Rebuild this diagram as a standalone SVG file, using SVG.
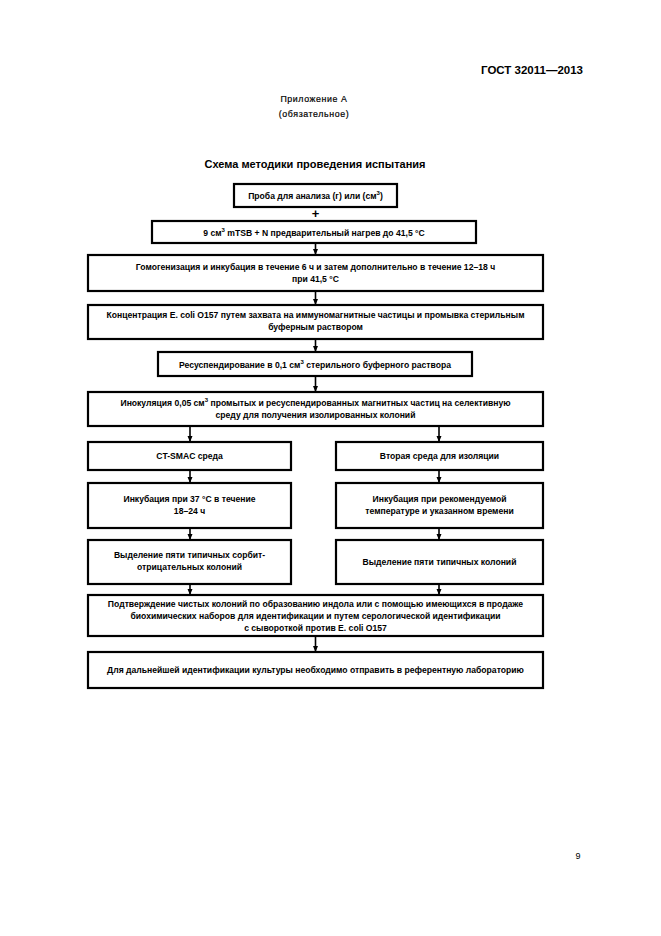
<svg xmlns="http://www.w3.org/2000/svg" width="661" height="936" viewBox="0 0 661 936">
<defs>
<style>
.box{fill:#fff;stroke:#000;stroke-width:2.2}
.t{font-family:"Liberation Sans",Arial,sans-serif;font-size:8.6px;font-weight:bold;text-anchor:middle;fill:#000}
.h{font-family:"Liberation Sans",Arial,sans-serif;fill:#000}
.c{stroke:#000;stroke-width:1.6;fill:none}
</style>
<marker id="ah" markerWidth="6" markerHeight="6" refX="5" refY="3" orient="auto" markerUnits="userSpaceOnUse">
<path d="M0,0.5 L6,3 L0,5.5 Z" fill="#000"/>
</marker>
</defs>
<rect width="661" height="936" fill="#fff"/>
<text class="h" x="583" y="74" font-size="11.5" font-weight="bold" text-anchor="end">ГОСТ 32011—2013</text>
<text class="h" x="314" y="102" font-size="8.8" text-anchor="middle" letter-spacing="0.6" stroke="#000" stroke-width="0.2">Приложение А</text>
<text class="h" x="314" y="117" font-size="8.8" text-anchor="middle" letter-spacing="0.6" stroke="#000" stroke-width="0.2">(обязательное)</text>
<text class="h" x="315" y="168" font-size="11" font-weight="bold" text-anchor="middle">Схема методики проведения испытания</text>
<text class="h" x="578" y="859" font-size="9" text-anchor="middle">9</text>

<g id="connectors">
<text class="h" x="315.5" y="218" font-size="13" font-weight="bold" text-anchor="middle">+</text>
<line class="c" x1="315.5" y1="243" x2="315.5" y2="254" marker-end="url(#ah)"/>
<line class="c" x1="315.5" y1="291" x2="315.5" y2="304" marker-end="url(#ah)"/>
<line class="c" x1="315.5" y1="339" x2="315.5" y2="351" marker-end="url(#ah)"/>
<line class="c" x1="315.5" y1="376" x2="315.5" y2="391" marker-end="url(#ah)"/>
<line class="c" x1="190" y1="426" x2="190" y2="441" marker-end="url(#ah)"/>
<line class="c" x1="439" y1="426" x2="439" y2="441" marker-end="url(#ah)"/>
<line class="c" x1="190" y1="470" x2="190" y2="482" marker-end="url(#ah)"/>
<line class="c" x1="439" y1="470" x2="439" y2="482" marker-end="url(#ah)"/>
<line class="c" x1="190" y1="528" x2="190" y2="539" marker-end="url(#ah)"/>
<line class="c" x1="439" y1="528" x2="439" y2="539" marker-end="url(#ah)"/>
<line class="c" x1="190" y1="584" x2="190" y2="594" marker-end="url(#ah)"/>
<line class="c" x1="439" y1="584" x2="439" y2="594" marker-end="url(#ah)"/>
<line class="c" x1="315.5" y1="636" x2="315.5" y2="651" marker-end="url(#ah)"/>
</g>

<g id="n1"><rect class="box" x="234" y="184" width="163" height="23"/>
<text class="t" x="315.5" y="199">Проба для анализа (г) или (см<tspan dy="-4" font-size="6">3</tspan><tspan dy="4">)</tspan></text></g>

<g id="n2"><rect class="box" x="152" y="221" width="324" height="22"/>
<text class="t" x="314" y="236">9 см<tspan dy="-4" font-size="6">3</tspan><tspan dy="4"> mTSB + N предварительный нагрев до 41,5 °С</tspan></text></g>

<g id="n3"><rect class="box" x="88" y="255" width="455" height="36"/>
<text class="t" x="315.5" y="270">Гомогенизация и инкубация в течение 6 ч и затем дополнительно в течение 12–18 ч</text>
<text class="t" x="315.5" y="282">при 41,5 °С</text></g>

<g id="n4"><rect class="box" x="88" y="305" width="455" height="34"/>
<text class="t" x="315.5" y="318">Концентрация E. coli O157 путем захвата на иммуномагнитные частицы и промывка стерильным</text>
<text class="t" x="315.5" y="330">буферным раствором</text></g>

<g id="n5"><rect class="box" x="158" y="352" width="314" height="24"/>
<text class="t" x="315" y="368">Ресуспендирование в 0,1 см<tspan dy="-4" font-size="6">3</tspan><tspan dy="4"> стерильного буферного раствора</tspan></text></g>

<g id="n6"><rect class="box" x="88" y="392" width="455" height="34"/>
<text class="t" x="315.5" y="406">Инокуляция 0,05 см<tspan dy="-4" font-size="6">3</tspan><tspan dy="4"> промытых и ресуспендированных магнитных частиц на селективную</tspan></text>
<text class="t" x="315.5" y="418">среду для получения изолированных колоний</text></g>

<g id="n7a"><rect class="box" x="88" y="442" width="203" height="28"/>
<text class="t" x="189.5" y="459">CT-SMAC среда</text></g>

<g id="n7b"><rect class="box" x="336" y="442" width="207" height="28"/>
<text class="t" x="439.5" y="459">Вторая среда для изоляции</text></g>

<g id="n8a"><rect class="box" x="88" y="483" width="203" height="45"/>
<text class="t" x="189.5" y="502">Инкубация при 37 °С в течение</text>
<text class="t" x="189.5" y="514">18–24 ч</text></g>

<g id="n8b"><rect class="box" x="336" y="483" width="207" height="45"/>
<text class="t" x="439.5" y="502">Инкубация при рекомендуемой</text>
<text class="t" x="439.5" y="514">температуре и указанном времени</text></g>

<g id="n9a"><rect class="box" x="88" y="540" width="203" height="44"/>
<text class="t" x="189.5" y="558">Выделение пяти типичных сорбит-</text>
<text class="t" x="189.5" y="570">отрицательных колоний</text></g>

<g id="n9b"><rect class="box" x="336" y="540" width="207" height="44"/>
<text class="t" x="439.5" y="565">Выделение пяти типичных колоний</text></g>

<g id="n10"><rect class="box" x="88" y="595" width="455" height="41"/>
<text class="t" x="315.5" y="607">Подтверждение чистых колоний по образованию индола или с помощью имеющихся в продаже</text>
<text class="t" x="315.5" y="619">биохимических наборов для идентификации и путем серологической идентификации</text>
<text class="t" x="315.5" y="631">с сывороткой против E. coli O157</text></g>

<g id="n11"><rect class="box" x="88" y="652" width="455" height="36"/>
<text class="t" x="315.5" y="673">Для дальнейшей идентификации культуры необходимо отправить в референтную лабораторию</text></g>
</svg>
